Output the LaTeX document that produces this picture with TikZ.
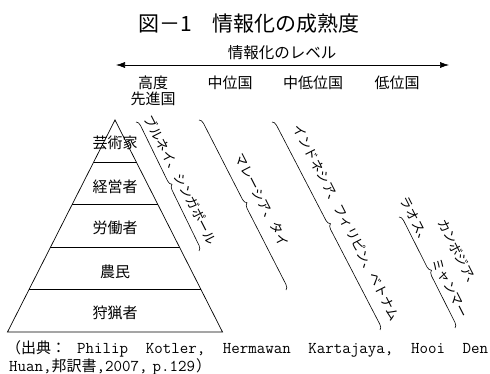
\documentclass[tikz,border=0pt]{standalone}
\usepackage{fontspec}
\setmainfont{Noto Sans CJK JP}
\usetikzlibrary{decorations.pathreplacing,arrows.meta,calc}
\tikzset{
  layerlbl/.style={font=\fontsize{15}{15}\selectfont, inner sep=0pt},
  collbl/.style={font=\fontsize{15}{16}\selectfont, inner sep=0pt, align=center},
  country/.style={font=\fontsize{13}{13}\selectfont, rotate=-63, inner sep=0pt},
  brc/.style={decorate, decoration={brace, amplitude=5pt}, line width=0.6pt},
  citelbl/.style={inner sep=0pt, anchor=base west},
  levelarrow/.style={line width=0.6pt, {Latex[length=9pt,width=6pt]}-{Latex[length=9pt,width=6pt]}}
}
\newcommand{\citett}{\fontsize{16.5}{16.5}\selectfont\ttfamily\addfontfeature{FakeBold=0.5}}
\begin{document}
\begin{tikzpicture}[x=1pt,y=1pt]
\useasboundingbox (0,0) rectangle (490,373);
% title
\node[font=\fontsize{21}{21}\selectfont, inner sep=0pt] (title) at (249,349) {図－1　情報化の成熟度};
\node[font=\fontsize{15.5}{15.5}\selectfont, inner sep=0pt] (lvl) at (282,320) {情報化のレベル};
\coordinate (aL) at (116,308);
\coordinate (aR) at (449,308);
\draw[levelarrow] (aL) -- (aR);
% column labels
\node[collbl] (c1) at (153,282) {高度\\先進国};
\node[collbl] (c2) at (230,290) {中位国};
\node[collbl] (c3) at (313,290) {中低位国};
\node[collbl] (c4) at (397,290) {低位国};
% pyramid
\coordinate (apex) at (115,253);
\coordinate (bl) at (7.5,41);
\coordinate (br) at (222.5,41);
\draw[line width=0.7pt] (apex) -- (br) -- (bl) -- cycle;
\foreach \t in {0.2,0.4,0.6,0.8}
  \draw[line width=0.7pt] ($(apex)!\t!(bl)$) -- ($(apex)!\t!(br)$);
\node[layerlbl] (p1) at (115,230) {芸術家};
\node[layerlbl] (p2) at (115,186) {経営者};
\node[layerlbl] (p3) at (115,145) {労働者};
\node[layerlbl] (p4) at (115,101) {農民};
\node[layerlbl] (p5) at (115,60) {狩猟者};
% braces
\coordinate (b1s) at (136,251); \coordinate (b1e) at (199,122);
\coordinate (b2s) at (199,253); \coordinate (b2e) at (286,83);
\coordinate (b3s) at (272,251); \coordinate (b3e) at (380,43);
\coordinate (b4s) at (399,156); \coordinate (b4e) at (455,45);
\draw[brc] (b1s) -- (b1e);
\draw[brc] (b2s) -- (b2e);
\draw[brc] (b3s) -- (b3e);
\draw[brc] (b4s) -- (b4e);
% countries
\node[country] (t1) at (181,193) {ブルネイ、シンガポール};
\node[country] (t2) at (262,173) {マレーシア、タイ};
\node[country] (t3) at (346.5,150.5) {インドネシア、フィリピン、ベトナム};
\node[country] (t4a) at (416,152) {ラオス、};
\node[country] (t4b) at (459,119) {カンボジア、};
\node[country] (t4c) at (450,85) {ミャンマー};
% citation
\node[citelbl, font=\fontsize{15}{15}\selectfont] (s1) at (6,20) {（出典：};
\node[citelbl, font=\citett\addfontfeature{LetterSpace=4}] (s2) at (77,20)
  {\makebox[411pt][s]{Philip\hfill Kotler,\hfill Hermawan\hfill Kartajaya,\hfill Hooi\hfill Den}};
\node[citelbl] (s3) at (9,1.5)
  {{\citett Huan,}{\fontsize{15}{15}\selectfont 邦訳書}{\citett ,2007,\hspace{5pt}p.129}{\fontsize{15}{15}\selectfont\hspace{1pt}）}};
\end{tikzpicture}
\end{document}
